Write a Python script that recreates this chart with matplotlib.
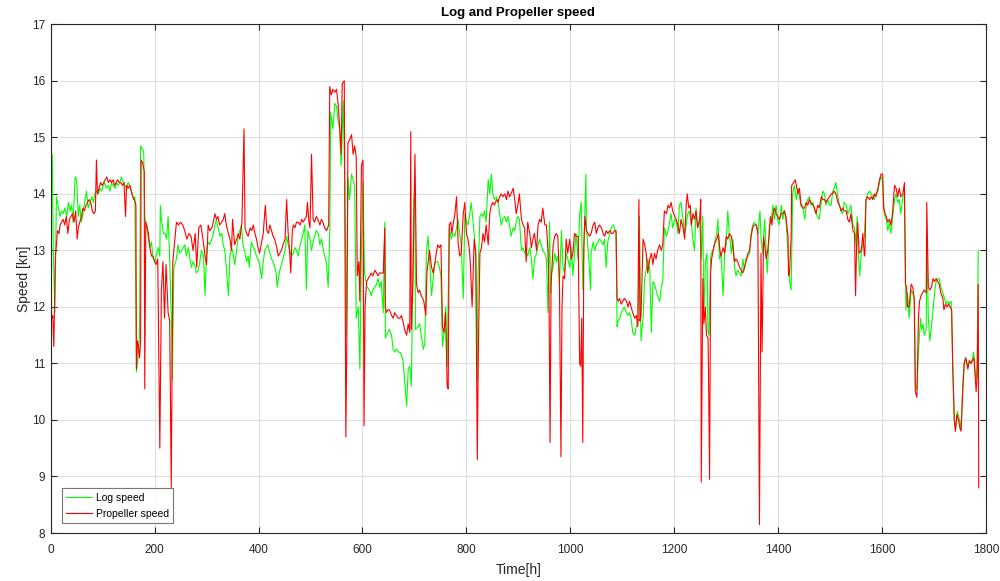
import matplotlib
matplotlib.use("Agg")
import matplotlib.pyplot as plt

# Log speed (STW from the speed log), hours / knots
log_hours = [0, 3, 5, 8, 11, 15, 18, 21, 24, 27, 31, 34, 37, 40, 43, 47, 50, 53, 56, 59, 63, 66, 69, 72, 76, 79, 82, 85, 88, 92, 95, 98, 101, 104, 107, 111, 114, 117, 120, 124, 127, 130, 133, 136, 140, 143, 146, 149, 152, 154, 157, 159, 162, 165, 168, 171, 173, 176, 179, 181, 185, 188, 191, 194, 197, 201, 204, 207, 210, 211, 213, 217, 220, 223, 226, 229, 233, 234, 236, 237, 242, 245, 248, 252, 255, 258, 261, 265, 268, 271, 274, 277, 280, 284, 287, 290, 294, 297, 300, 303, 306, 310, 313, 316, 319, 322, 326, 329, 332, 335, 338, 342, 345, 348, 351, 354, 358, 361, 364, 367, 370, 374, 377, 380, 382, 386, 390, 393, 396, 399, 402, 406, 409, 412, 415, 418, 422, 425, 428, 431, 434, 436, 439, 441, 444, 447, 451, 454, 457, 460, 463, 467, 470, 473, 476, 480, 483, 486, 489, 492, 495, 499, 502, 505, 508, 511, 515, 518, 521, 524, 526, 529, 531, 534, 537, 539, 543, 547, 550, 553, 556, 559, 563, 566, 569, 572, 575, 579, 582, 585, 588, 592, 595, 598, 601, 604, 609, 613, 617, 620, 624, 627, 630, 633, 636, 640, 643, 644, 646, 649, 652, 656, 659, 662, 665, 669, 672, 675, 678, 681, 685, 688, 691, 694, 696, 699, 701, 702, 707, 710, 713, 717, 720, 723, 726, 729, 733, 736, 739, 742, 745, 748, 751, 754, 757, 760, 763, 767, 771, 774, 778, 781, 784, 787, 790, 794, 797, 800, 803, 806, 809, 813, 816, 818, 821, 822, 826, 829, 832, 835, 838, 842, 845, 848, 851, 854, 858, 861, 864, 867, 870, 874, 877, 880, 883, 886, 890, 893, 896, 899, 902, 906, 909, 912, 915, 918, 922, 925, 928, 931, 935, 938, 941, 944, 947, 951, 954, 957, 960, 962, 964, 967, 970, 973, 976, 979, 983, 986, 989, 992, 995, 999, 1002, 1005, 1008, 1011, 1015, 1018, 1021, 1024, 1028, 1030, 1031, 1034, 1037, 1039, 1040, 1044, 1047, 1050, 1053, 1056, 1060, 1063, 1066, 1069, 1072, 1076, 1079, 1082, 1085, 1088, 1090, 1092, 1095, 1098, 1101, 1104, 1108, 1111, 1114, 1117, 1120, 1124, 1127, 1130, 1133, 1136, 1140, 1143, 1146, 1149, 1153, 1156, 1159, 1162, 1165, 1168, 1172, 1175, 1178, 1181, 1185, 1188, 1191, 1194, 1197, 1201, 1204, 1207, 1210, 1213, 1217, 1220, 1223, 1226, 1229, 1233, 1236, 1239, 1242, 1245, 1249, 1252, 1255, 1257, 1260, 1263, 1265, 1267, 1270, 1272, 1276, 1279, 1282, 1284, 1287, 1290, 1294, 1297, 1300, 1303, 1306, 1310, 1313, 1316, 1319, 1322, 1326, 1329, 1332, 1335, 1338, 1342, 1345, 1348, 1351, 1354, 1358, 1361, 1365, 1367, 1370, 1374, 1377, 1379, 1381, 1383, 1387, 1390, 1393, 1396, 1399, 1402, 1406, 1409, 1412, 1415, 1419, 1422, 1425, 1428, 1431, 1435, 1438, 1441, 1444, 1447, 1451, 1454, 1457, 1460, 1463, 1467, 1470, 1473, 1476, 1479, 1483, 1486, 1489, 1492, 1495, 1499, 1502, 1505, 1508, 1511, 1515, 1518, 1521, 1524, 1527, 1531, 1534, 1537, 1540, 1544, 1547, 1550, 1552, 1554, 1557, 1560, 1563, 1566, 1569, 1572, 1576, 1579, 1582, 1585, 1588, 1592, 1595, 1598, 1601, 1604, 1608, 1611, 1614, 1617, 1620, 1624, 1627, 1630, 1633, 1636, 1640, 1643, 1646, 1649, 1652, 1656, 1659, 1662, 1664, 1667, 1670, 1674, 1676, 1679, 1681, 1685, 1686, 1689, 1692, 1695, 1698, 1701, 1704, 1707, 1710, 1713, 1717, 1720, 1723, 1726, 1729, 1733, 1736, 1739, 1742, 1745, 1749, 1752, 1755, 1758, 1761, 1765, 1768, 1771, 1774, 1776, 1779, 1781, 1783, 1785]
log_knots = [13.6, 14.7, 13.0, 11.9, 13.95, 13.75, 13.6, 13.7, 13.65, 13.75, 13.6, 13.85, 13.7, 13.8, 13.5, 14.3, 14.25, 13.6, 13.8, 13.5, 13.7, 13.9, 14.05, 13.75, 13.85, 13.95, 13.85, 14.0, 14.05, 14.0, 14.1, 14.05, 14.15, 14.2, 14.1, 14.15, 14.05, 14.2, 14.15, 14.1, 14.2, 14.15, 14.2, 14.3, 14.2, 14.15, 14.1, 14.2, 14.15, 14.1, 14.0, 13.9, 13.95, 10.85, 11.1, 11.5, 14.85, 14.8, 14.75, 13.6, 13.4, 13.2, 13.05, 13.15, 12.85, 12.8, 12.95, 13.05, 12.9, 13.8, 13.55, 13.3, 13.3, 13.2, 13.6, 12.85, 11.5, 10.7, 12.0, 12.7, 12.85, 13.1, 12.95, 13.0, 13.05, 13.1, 12.9, 13.05, 12.85, 12.7, 12.8, 12.75, 12.6, 12.65, 12.8, 13.0, 12.9, 12.2, 13.0, 13.15, 13.1, 13.2, 13.3, 13.45, 13.55, 13.4, 13.25, 13.3, 13.1, 13.0, 12.7, 12.2, 12.9, 13.05, 12.95, 12.75, 13.0, 13.25, 13.35, 13.45, 13.1, 12.95, 12.8, 12.9, 12.7, 13.15, 13.05, 13.0, 12.9, 12.85, 12.75, 12.5, 12.8, 13.0, 13.05, 13.1, 12.95, 12.85, 12.8, 12.7, 12.6, 12.35, 12.55, 12.65, 12.75, 12.85, 13.0, 13.25, 13.1, 13.0, 12.9, 12.95, 13.05, 13.0, 12.9, 13.1, 13.2, 13.3, 13.45, 12.3, 13.35, 13.2, 13.0, 13.15, 13.25, 13.35, 13.3, 13.1, 13.2, 13.05, 12.95, 12.85, 12.75, 12.35, 13.3, 15.45, 15.15, 15.6, 15.55, 15.3, 15.15, 14.5, 15.65, 14.2, 11.5, 14.3, 13.9, 14.35, 14.25, 14.15, 11.8, 12.0, 10.9, 13.0, 14.2, 12.6, 12.35, 12.3, 12.2, 12.3, 12.35, 12.4, 12.5, 12.35, 12.45, 11.9, 13.5, 11.45, 11.5, 11.55, 11.6, 11.5, 11.25, 11.2, 11.25, 11.2, 11.2, 11.15, 11.05, 10.7, 10.25, 10.9, 10.95, 10.6, 11.9, 13.9, 14.15, 11.6, 11.65, 11.7, 11.5, 11.25, 11.35, 12.95, 13.25, 12.85, 12.2, 12.5, 12.75, 12.8, 12.8, 12.7, 12.55, 11.3, 11.55, 12.0, 10.95, 13.4, 13.2, 13.3, 13.25, 13.4, 13.55, 13.3, 13.1, 12.15, 13.65, 13.5, 13.45, 13.6, 13.85, 13.5, 13.2, 12.95, 10.7, 12.4, 13.6, 13.65, 13.6, 13.7, 13.5, 14.25, 14.0, 14.35, 14.0, 13.9, 13.95, 13.85, 13.65, 13.45, 13.55, 13.6, 13.5, 13.6, 13.45, 13.25, 13.4, 13.35, 13.5, 13.6, 13.55, 13.0, 13.05, 12.95, 13.0, 12.9, 13.05, 12.85, 12.5, 12.85, 12.95, 13.1, 13.2, 13.1, 13.0, 12.95, 12.85, 11.9, 13.5, 12.25, 12.6, 12.7, 12.95, 12.8, 12.9, 12.4, 13.35, 12.7, 12.6, 12.95, 12.85, 12.7, 13.05, 12.55, 12.95, 13.3, 12.85, 13.65, 13.85, 12.3, 13.65, 14.35, 13.4, 13.05, 12.65, 12.3, 12.95, 13.15, 13.0, 13.1, 13.15, 13.2, 13.15, 13.1, 13.2, 12.7, 13.15, 13.3, 13.4, 13.45, 13.4, 13.3, 11.65, 11.75, 11.8, 11.9, 11.95, 12.0, 11.9, 11.85, 11.9, 11.8, 11.55, 11.5, 11.65, 11.75, 13.6, 11.4, 11.8, 12.5, 12.65, 12.85, 12.65, 11.55, 12.45, 12.4, 12.3, 12.2, 12.1, 12.35, 12.45, 13.4, 13.25, 13.35, 13.5, 13.65, 13.4, 13.55, 13.5, 13.3, 13.8, 13.85, 13.55, 13.3, 13.45, 13.65, 13.7, 13.45, 13.2, 13.0, 13.75, 13.4, 13.55, 12.85, 13.6, 11.8, 12.8, 12.95, 11.55, 11.5, 12.9, 12.95, 13.05, 13.2, 13.3, 13.55, 12.85, 12.95, 12.2, 12.95, 13.1, 13.7, 13.3, 12.95, 13.2, 12.7, 12.55, 12.65, 12.6, 12.55, 12.85, 12.65, 12.85, 12.9, 12.95, 13.3, 13.45, 13.5, 13.45, 13.3, 13.7, 13.25, 12.95, 13.55, 13.0, 12.6, 12.95, 13.45, 13.55, 13.8, 13.55, 13.8, 13.55, 13.45, 13.8, 13.55, 13.7, 13.55, 12.95, 12.45, 12.3, 14.0, 14.15, 13.9, 14.1, 13.95, 13.8, 13.8, 13.55, 13.8, 13.9, 13.95, 13.8, 13.85, 13.7, 13.65, 13.6, 13.55, 13.85, 14.05, 14.0, 13.8, 13.9, 13.8, 13.8, 14.05, 14.1, 14.2, 13.95, 13.8, 13.7, 13.65, 13.85, 13.8, 13.65, 13.7, 13.8, 13.45, 13.4, 13.1, 13.6, 12.95, 12.55, 12.95, 13.1, 13.25, 13.9, 14.0, 14.05, 14.0, 13.95, 13.9, 14.0, 14.05, 14.2, 14.3, 14.25, 13.65, 13.55, 13.35, 13.5, 13.3, 13.55, 13.9, 14.0, 13.85, 13.9, 13.65, 13.95, 14.0, 11.95, 12.25, 11.8, 12.3, 12.25, 12.1, 10.6, 10.55, 11.2, 11.8, 11.6, 11.7, 11.5, 11.6, 13.25, 11.8, 11.4, 11.65, 11.95, 12.25, 12.45, 12.5, 12.5, 12.35, 12.25, 12.15, 12.05, 12.1, 12.05, 12.1, 11.0, 10.0, 9.85, 10.15, 10.0, 9.85, 10.55, 11.0, 11.1, 10.95, 11.05, 11.0, 11.1, 11.2, 10.85, 10.7, 10.95, 13.0]

# Propeller speed (speed derived from shaft revolutions), hours / knots
prop_hours = [0, 2, 4, 6, 9, 11, 13, 16, 18, 21, 24, 27, 30, 33, 36, 39, 42, 45, 48, 51, 53, 56, 59, 62, 65, 68, 71, 74, 77, 80, 83, 86, 88, 90, 93, 96, 99, 102, 105, 108, 111, 114, 117, 120, 123, 126, 129, 132, 135, 138, 141, 144, 146, 149, 152, 155, 158, 161, 164, 165, 167, 169, 171, 173, 174, 177, 180, 181, 183, 186, 188, 191, 194, 197, 200, 203, 206, 210, 213, 216, 219, 222, 226, 229, 232, 235, 238, 242, 246, 250, 254, 258, 262, 266, 270, 274, 278, 281, 285, 289, 293, 297, 300, 303, 306, 310, 313, 316, 319, 322, 325, 329, 332, 335, 338, 342, 345, 348, 350, 354, 358, 361, 364, 368, 372, 374, 377, 380, 384, 387, 390, 393, 396, 399, 402, 405, 409, 413, 416, 419, 422, 425, 428, 431, 435, 438, 441, 444, 447, 451, 454, 457, 460, 462, 465, 467, 470, 473, 476, 480, 483, 486, 489, 492, 494, 497, 499, 502, 505, 508, 511, 514, 518, 521, 524, 527, 531, 535, 537, 540, 543, 547, 550, 553, 556, 559, 561, 565, 568, 570, 572, 575, 579, 582, 585, 588, 590, 593, 595, 598, 601, 603, 605, 608, 611, 614, 617, 620, 624, 627, 630, 633, 636, 640, 643, 644, 646, 649, 652, 656, 659, 662, 665, 669, 672, 675, 678, 681, 685, 688, 691, 693, 694, 697, 701, 702, 704, 707, 710, 713, 716, 718, 722, 724, 727, 729, 733, 736, 739, 742, 745, 748, 751, 754, 757, 760, 763, 765, 767, 770, 772, 775, 778, 781, 784, 787, 790, 794, 797, 800, 803, 806, 808, 811, 815, 818, 821, 823, 826, 829, 832, 835, 838, 842, 845, 848, 851, 854, 858, 861, 864, 867, 870, 874, 877, 880, 883, 886, 890, 893, 896, 899, 902, 906, 909, 912, 915, 918, 922, 925, 928, 931, 935, 938, 941, 944, 947, 951, 954, 957, 959, 961, 963, 967, 970, 973, 976, 979, 982, 984, 986, 989, 992, 995, 999, 1002, 1005, 1008, 1011, 1015, 1018, 1020, 1022, 1024, 1026, 1028, 1031, 1034, 1037, 1040, 1044, 1047, 1050, 1053, 1056, 1060, 1063, 1066, 1069, 1072, 1076, 1079, 1082, 1085, 1088, 1090, 1092, 1095, 1098, 1101, 1104, 1108, 1111, 1114, 1117, 1120, 1124, 1127, 1130, 1132, 1134, 1136, 1140, 1143, 1146, 1149, 1153, 1156, 1159, 1162, 1165, 1168, 1172, 1175, 1178, 1181, 1185, 1188, 1191, 1194, 1197, 1201, 1204, 1207, 1210, 1213, 1217, 1220, 1223, 1225, 1228, 1231, 1233, 1236, 1239, 1242, 1245, 1249, 1251, 1252, 1255, 1257, 1260, 1262, 1265, 1266, 1268, 1270, 1272, 1276, 1279, 1282, 1285, 1288, 1290, 1294, 1297, 1300, 1303, 1306, 1310, 1313, 1316, 1319, 1322, 1326, 1329, 1332, 1335, 1338, 1342, 1345, 1348, 1351, 1354, 1358, 1361, 1364, 1367, 1369, 1372, 1374, 1377, 1380, 1383, 1385, 1388, 1390, 1393, 1396, 1399, 1402, 1406, 1409, 1412, 1415, 1419, 1420, 1422, 1425, 1426, 1430, 1433, 1436, 1438, 1441, 1444, 1447, 1451, 1454, 1457, 1460, 1463, 1467, 1470, 1473, 1476, 1479, 1483, 1486, 1489, 1492, 1495, 1499, 1502, 1505, 1508, 1511, 1515, 1518, 1521, 1524, 1527, 1531, 1534, 1537, 1540, 1544, 1547, 1549, 1551, 1553, 1556, 1560, 1563, 1566, 1567, 1569, 1572, 1576, 1579, 1582, 1585, 1588, 1592, 1595, 1598, 1601, 1603, 1606, 1608, 1611, 1614, 1617, 1620, 1624, 1627, 1630, 1633, 1636, 1640, 1643, 1645, 1647, 1649, 1652, 1656, 1659, 1662, 1664, 1667, 1670, 1672, 1675, 1678, 1681, 1685, 1686, 1689, 1692, 1695, 1698, 1701, 1704, 1707, 1710, 1713, 1717, 1719, 1722, 1725, 1728, 1731, 1734, 1736, 1739, 1741, 1744, 1747, 1750, 1752, 1755, 1758, 1761, 1765, 1768, 1771, 1774, 1777, 1781, 1783, 1785, 1786]
prop_knots = [11.95, 11.8, 11.85, 11.3, 12.9, 13.1, 13.35, 13.3, 13.45, 13.5, 13.55, 13.45, 13.6, 13.3, 13.55, 13.6, 13.65, 13.5, 13.7, 13.2, 13.4, 13.5, 13.6, 13.75, 13.7, 13.8, 13.85, 13.9, 13.85, 13.7, 13.65, 13.7, 14.6, 14.0, 14.1, 14.2, 14.15, 14.2, 14.25, 14.3, 14.2, 14.25, 14.2, 14.25, 14.15, 14.2, 14.25, 14.2, 14.2, 14.15, 14.2, 13.6, 14.15, 14.1, 14.15, 14.05, 13.95, 13.9, 13.8, 10.9, 11.4, 11.3, 11.1, 11.4, 14.6, 14.55, 14.4, 10.55, 13.5, 13.4, 13.3, 13.05, 12.9, 12.9, 12.8, 12.75, 12.85, 9.5, 12.3, 12.8, 11.8, 12.75, 11.9, 11.75, 8.8, 12.8, 13.1, 13.5, 13.45, 13.5, 13.45, 13.35, 13.2, 13.3, 13.25, 13.0, 13.3, 12.7, 13.4, 13.45, 13.2, 12.9, 12.75, 13.45, 13.35, 13.4, 13.5, 13.65, 13.55, 13.6, 13.45, 13.5, 13.55, 13.65, 13.45, 13.3, 13.2, 13.0, 13.55, 13.1, 13.2, 13.3, 13.2, 13.5, 15.15, 13.4, 13.3, 13.25, 13.4, 13.35, 13.45, 13.3, 13.2, 13.05, 12.95, 13.1, 13.3, 13.8, 13.35, 13.3, 13.45, 13.35, 13.25, 13.2, 13.05, 12.9, 12.95, 13.0, 13.1, 13.2, 13.9, 13.3, 12.95, 12.6, 13.35, 13.45, 13.4, 13.5, 13.5, 13.45, 13.55, 13.5, 13.55, 13.6, 13.85, 13.5, 13.4, 14.7, 13.55, 13.5, 13.6, 13.55, 13.45, 13.55, 13.5, 13.4, 13.35, 13.45, 15.9, 15.75, 15.85, 15.8, 15.85, 15.6, 15.2, 14.7, 15.95, 16.0, 9.7, 11.5, 14.9, 14.95, 15.05, 14.7, 14.85, 14.65, 12.55, 12.8, 12.1, 14.5, 14.6, 9.9, 12.0, 12.45, 12.5, 12.55, 12.6, 12.55, 12.65, 12.6, 12.55, 12.6, 12.6, 12.6, 13.4, 12.0, 11.9, 11.95, 11.95, 11.85, 11.8, 11.9, 11.85, 11.8, 11.8, 11.85, 11.75, 11.6, 11.5, 11.7, 11.55, 15.1, 11.6, 12.4, 14.7, 14.0, 12.4, 12.25, 12.3, 12.2, 12.15, 12.1, 11.85, 12.6, 12.85, 13.0, 12.7, 12.6, 12.75, 12.95, 13.1, 13.05, 13.1, 11.65, 11.55, 11.9, 10.6, 10.55, 13.45, 13.5, 13.3, 13.5, 13.65, 13.95, 13.15, 12.9, 12.95, 13.65, 13.85, 13.3, 13.2, 13.0, 12.7, 12.0, 13.2, 12.95, 9.3, 11.2, 12.95, 13.05, 13.3, 13.15, 13.45, 13.1, 13.65, 13.8, 13.85, 13.8, 13.9, 13.85, 13.95, 14.0, 13.95, 14.0, 13.9, 14.05, 13.95, 14.0, 14.1, 13.9, 13.65, 13.8, 14.0, 13.55, 13.45, 13.4, 12.8, 13.5, 13.3, 13.05, 13.2, 13.3, 13.0, 13.45, 13.55, 13.5, 13.75, 13.45, 13.45, 13.0, 12.25, 9.6, 12.4, 13.1, 13.25, 13.3, 13.25, 12.5, 9.35, 12.0, 12.55, 12.5, 13.2, 12.95, 13.2, 12.85, 12.95, 13.3, 13.25, 13.25, 11.0, 10.95, 11.8, 9.6, 13.05, 13.6, 13.35, 13.3, 13.25, 13.3, 13.45, 13.5, 13.3, 13.4, 13.45, 13.4, 13.3, 13.25, 13.35, 13.3, 13.35, 13.3, 13.3, 13.35, 13.35, 12.15, 12.1, 12.15, 12.05, 12.1, 12.15, 12.1, 12.0, 12.1, 12.0, 11.9, 11.8, 11.85, 11.65, 13.9, 11.75, 11.85, 13.2, 13.1, 12.95, 12.6, 12.85, 12.95, 12.75, 12.95, 12.85, 13.0, 13.1, 13.0, 13.1, 13.7, 13.65, 13.8, 13.75, 13.85, 13.7, 13.6, 13.55, 13.45, 13.3, 13.55, 13.4, 13.2, 13.8, 14.0, 13.75, 13.8, 13.45, 13.65, 13.55, 13.7, 13.4, 13.55, 13.9, 8.9, 12.5, 11.7, 12.0, 11.5, 11.45, 10.85, 8.95, 12.6, 12.85, 13.05, 13.15, 13.2, 13.3, 13.0, 12.9, 13.05, 12.95, 13.25, 13.2, 13.3, 13.25, 13.05, 12.8, 12.85, 12.8, 12.7, 12.65, 12.6, 12.7, 12.8, 12.95, 13.0, 13.25, 13.4, 13.45, 13.45, 13.3, 8.15, 12.95, 11.2, 13.25, 13.1, 12.85, 13.0, 13.3, 13.6, 13.45, 13.65, 13.75, 13.65, 13.6, 13.55, 13.65, 13.65, 13.7, 13.6, 13.25, 12.55, 12.6, 13.25, 14.15, 14.2, 14.25, 14.1, 14.0, 14.1, 13.8, 13.75, 13.75, 13.85, 13.8, 13.9, 13.85, 13.8, 13.75, 13.65, 13.8, 13.75, 13.95, 13.9, 13.9, 13.85, 13.9, 13.95, 14.0, 14.0, 14.05, 14.0, 13.85, 13.8, 13.7, 13.75, 13.7, 13.7, 13.55, 13.5, 13.65, 13.35, 13.3, 12.2, 13.1, 13.5, 12.95, 13.0, 13.3, 12.9, 12.95, 13.9, 13.95, 13.9, 13.95, 13.9, 14.0, 13.95, 14.1, 14.25, 14.35, 14.35, 13.75, 13.65, 13.6, 13.5, 13.55, 13.45, 13.65, 14.15, 14.1, 13.95, 14.1, 13.95, 14.0, 14.2, 12.4, 12.35, 12.0, 12.0, 12.4, 12.35, 12.15, 10.5, 10.4, 11.8, 12.1, 12.2, 12.25, 12.3, 12.25, 13.85, 12.35, 12.3, 12.35, 12.5, 12.45, 12.5, 12.45, 12.4, 12.25, 12.15, 11.95, 12.05, 12.0, 12.05, 12.0, 11.95, 10.9, 10.0, 9.8, 10.1, 10.0, 9.85, 9.8, 10.45, 11.0, 11.1, 10.9, 11.05, 11.0, 11.05, 11.1, 10.5, 10.8, 12.4, 8.8]

x_ticks = list(range(0, 1801, 200))
y_ticks = list(range(8, 18))

text_color = "#262626"
plt.rcParams["font.family"] = ["Liberation Sans", "DejaVu Sans"]

fig = plt.figure(figsize=(10.0, 5.81), dpi=100)
ax = fig.add_axes([0.0507, 0.0826, 0.9353, 0.8755])

ax.plot(log_hours, log_knots, color="#00ff00", lw=0.8, label="Log speed")
ax.plot(prop_hours, prop_knots, color="#ff0000", lw=0.8, label="Propeller speed")

ax.set_xlim(0, 1800)
ax.set_ylim(8, 17)
ax.set_xticks(x_ticks)
ax.set_yticks(y_ticks)
ax.grid(True, color="#dfdfdf", lw=0.8)
ax.set_axisbelow(True)
ax.tick_params(direction="in", length=4, width=0.8, top=True, right=True,
               labelsize=8.5, colors=text_color)
ax.tick_params(axis="x", pad=8)
ax.tick_params(axis="y", pad=4)
for s in ax.spines.values():
    s.set_color(text_color)
    s.set_linewidth(0.8)

ax.set_title("Log and Propeller speed", fontsize=9.5, fontweight="bold",
             color="black", pad=6)
ax.set_xlabel("Time[h]", fontsize=10, color=text_color, labelpad=5)
ax.set_ylabel("Speed [kn]", fontsize=10, color=text_color, labelpad=1)

leg = ax.legend(loc="lower left", bbox_to_anchor=(0.0118, 0.019), fontsize=7.5,
                frameon=True, fancybox=False, borderpad=0.45, handlelength=2.5,
                handletextpad=0.3, labelspacing=0.55, borderaxespad=0)
leg.get_frame().set_edgecolor("#555555")
leg.get_frame().set_linewidth(0.8)

fig.savefig("out.png", dpi=100)
